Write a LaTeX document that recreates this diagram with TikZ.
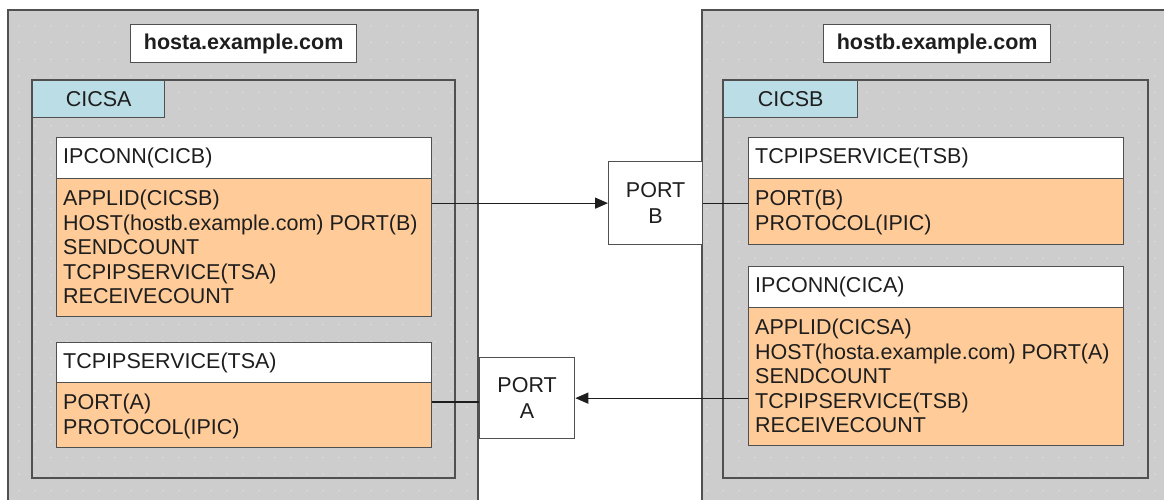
\documentclass[tikz,border=0pt]{standalone}
\usepackage{fontspec}
\setmainfont{Liberation Sans}
\usetikzlibrary{arrows.meta}
\definecolor{hostgray}{HTML}{CDCDCD}
\definecolor{dotgray}{HTML}{DCDCDC}
\definecolor{edge}{HTML}{505050}
\definecolor{tabblue}{HTML}{BADDE6}
\definecolor{bodyorange}{HTML}{FFCC99}
\definecolor{ink}{HTML}{1E1E1E}
\tikzset{
  frame/.style={draw=edge, line width=1.3pt, inner sep=0pt, anchor=north west},
  hostbox/.style={frame, fill=hostgray},
  labelbox/.style={frame, fill=white, font=\bfseries\fontsize{21.5}{24}\selectfont, text=ink},
  tabbox/.style={frame, fill=tabblue, font=\fontsize{21.5}{24}\selectfont, text=ink},
  headbox/.style={frame, fill=white, minimum width=375pt},
  bodybox/.style={frame, fill=bodyorange, minimum width=375pt},
  headtext/.style={anchor=west, inner sep=0pt, font=\fontsize{21.5}{24}\selectfont, text=ink},
  bodytext/.style={anchor=north west, inner sep=0pt, align=left, font=\fontsize{21.5}{24.5}\selectfont, text=ink},
  portbox/.style={frame, fill=white, align=center, font=\fontsize{21.5}{26}\selectfont, text=ink},
  link/.style={draw=ink, line width=1.2pt},
  tip/.style={-{Triangle[length=13pt,width=11pt]}},
}
\begin{document}
\begin{tikzpicture}[x=1pt,y=-1pt]
\useasboundingbox (0,0) rectangle (1164,500);
\clip (0,0) rectangle (1164,500);
\fill[white] (0,0) rectangle (1164,500);
% hosts
\node[hostbox, minimum width=470pt, minimum height=520pt] (hostA) at (8,10) {};
\node[hostbox, minimum width=480pt, minimum height=520pt] (hostB) at (702,10) {};
\node[hostbox, minimum width=423pt, minimum height=398pt] (cicsA) at (32,80) {};
\node[hostbox, minimum width=425pt, minimum height=398pt] (cicsB) at (723,80) {};
% dot texture
\begin{scope}
\clip (8,10) rectangle (478,520) (702,10) rectangle (1180,520);
\foreach \i in {0,...,72} {
  \foreach \j in {0,...,30} {
    \fill[dotgray] (3+16*\i, 26+16.6*\j) circle (0.9pt);
  }
}
\end{scope}
\draw[edge, line width=1.3pt] (8,10) rectangle (478,520);
\draw[edge, line width=1.3pt] (702,10) rectangle (1180,520);
\draw[edge, line width=1.3pt] (32,80) rectangle (455,478);
\draw[edge, line width=1.3pt] (723,80) rectangle (1148,478);
% labels
\node[labelbox, minimum width=226pt, minimum height=38pt] (labA) at (130,24) {hosta.example.com};
\node[labelbox, minimum width=227pt, minimum height=38pt] (labB) at (823,24) {hostb.example.com};
\node[tabbox, minimum width=132pt, minimum height=37pt] (tabA) at (32,80) {CICSA};
\node[tabbox, minimum width=134pt, minimum height=37pt] (tabB) at (723,80) {CICSB};
% host A resources
\node[headbox, minimum height=41pt] (ipAh) at (56,137) {};
\node[bodybox, minimum height=138pt] (ipAb) at (56,178) {};
\node[headtext] at ([xshift=7pt]ipAh.west) {IPCONN(CICB)};
\node[bodytext] at ([xshift=7pt,yshift=-12pt]ipAb.north west) {APPLID(CICSB)\\HOST(hostb.example.com) PORT(B)\\SENDCOUNT\\TCPIPSERVICE(TSA)\\RECEIVECOUNT};
\node[headbox, minimum height=40pt] (tcAh) at (56,342) {};
\node[bodybox, minimum height=65pt] (tcAb) at (56,382) {};
\node[headtext] at ([xshift=7pt]tcAh.west) {TCPIPSERVICE(TSA)};
\node[bodytext] at ([xshift=7pt,yshift=-12pt]tcAb.north west) {PORT(A)\\PROTOCOL(IPIC)};
% host B resources
\node[headbox, minimum height=41pt] (tcBh) at (748,137) {};
\node[bodybox, minimum height=66pt] (tcBb) at (748,178) {};
\node[headtext] at ([xshift=7pt]tcBh.west) {TCPIPSERVICE(TSB)};
\node[bodytext] at ([xshift=7pt,yshift=-12pt]tcBb.north west) {PORT(B)\\PROTOCOL(IPIC)};
\node[headbox, minimum height=41pt] (ipBh) at (748,266) {};
\node[bodybox, minimum height=138pt] (ipBb) at (748,307) {};
\node[headtext] at ([xshift=7pt]ipBh.west) {IPCONN(CICA)};
\node[bodytext] at ([xshift=7pt,yshift=-12pt]ipBb.north west) {APPLID(CICSA)\\HOST(hosta.example.com) PORT(A)\\SENDCOUNT\\TCPIPSERVICE(TSB)\\RECEIVECOUNT};
% ports
\node[portbox, minimum width=94pt, minimum height=83pt] (portB) at (608,161) {PORT\\B};
\node[portbox, minimum width=95pt, minimum height=81pt] (portA) at (479,357) {PORT\\A};
% connectors
\draw[link, tip] (portB.west -| ipAb.east) -- (portB.west);
\draw[link] (portB.east) -- (portB.east -| tcBb.west);
\coordinate (jA) at (0,402);
\draw[link] (tcAb.east |- jA) -- (portA.west |- jA);
\draw[link, tip] (portA.east -| ipBb.west) -- (portA.east);
\end{tikzpicture}
\end{document}
